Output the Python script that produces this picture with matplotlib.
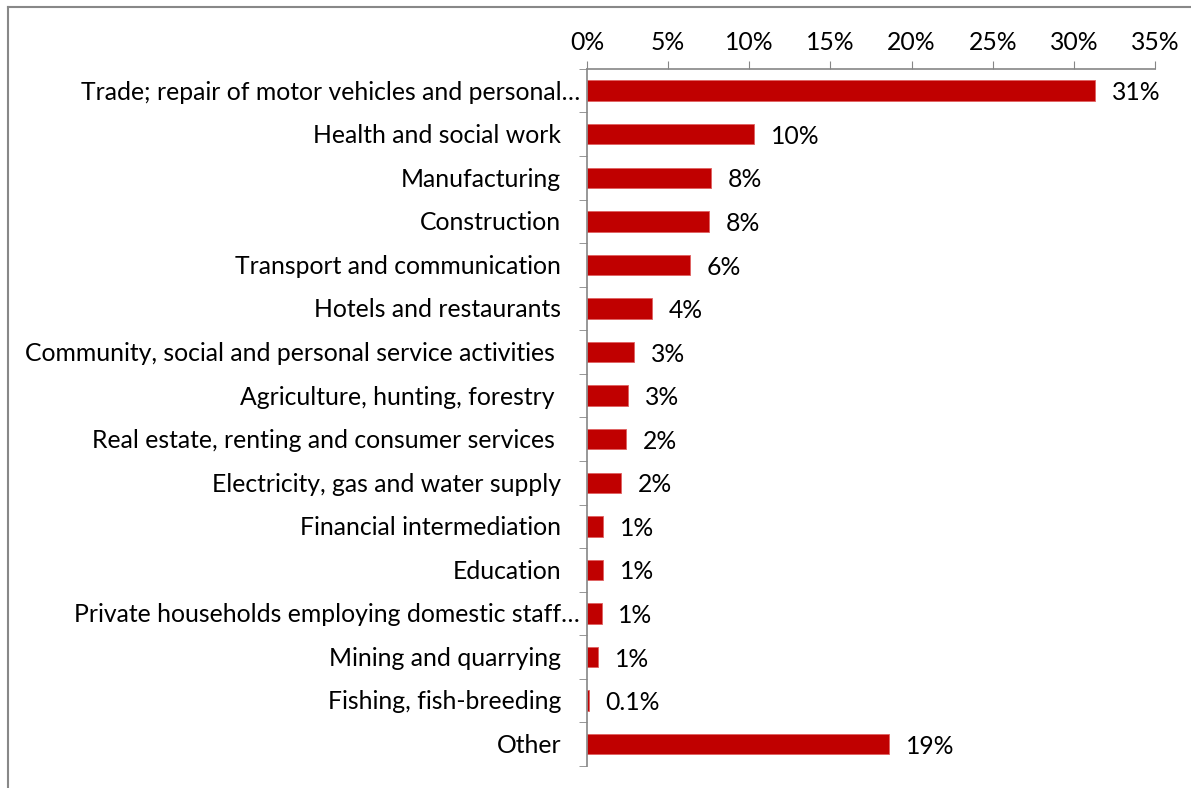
import numpy as np
from matplotlib import pyplot as plt
import matplotlib.ticker as mticker
from matplotlib.lines import Line2D

# sectors, top to bottom
sectors = [
    "Trade; repair of motor vehicles and personal\u2026",
    "Health and social work",
    "Manufacturing",
    "Construction",
    "Transport and communication",
    "Hotels and restaurants",
    "Community, social and personal service activities ",
    "Agriculture, hunting, forestry ",
    "Real estate, renting and consumer services ",
    "Electricity, gas and water supply",
    "Financial intermediation",
    "Education",
    "Private households employing domestic staff\u2026",
    "Mining and quarrying",
    "Fishing, fish-breeding",
    "Other",
]
# share of total, percent
shares = [31.3, 10.3, 7.65, 7.5, 6.35, 4.0, 2.9, 2.55, 2.4, 2.1,
          1.0, 1.0, 0.9, 0.7, 0.1, 18.6]
xticks = [0, 5, 10, 15, 20, 25, 30, 35]

fnt = "Lato"
fsize = 17.8
grey = "#868686"

fig = plt.figure(figsize=(11.91, 7.88), dpi=100)
ax = fig.add_axes([0.4929, 0.028, 0.4769, 0.8846])

y = np.arange(len(sectors))
ax.barh(y, shares, height=0.47, color="#C00000", edgecolor="#E06060", linewidth=0.6)

ax.set_xlim(0, 35)
ax.set_ylim(len(sectors) - 0.5, -0.5)

ax.xaxis.tick_top()
ax.set_xticks(xticks)
ax.xaxis.set_major_formatter(mticker.FuncFormatter(lambda v, p: f"{v:.0f}%"))
ax.tick_params(axis="x", direction="out", length=6, color=grey, pad=5,
               labelsize=fsize)
for lab in ax.get_xticklabels():
    lab.set_family(fnt)

# category ticks sit between the bars, names drawn by hand below
ax.set_yticks([])
ax.set_yticks(np.arange(len(sectors) + 1) - 0.5, minor=True)
ax.tick_params(axis="y", which="minor", direction="out", length=6, color=grey)

for s in ["right", "bottom"]:
    ax.spines[s].set_visible(False)
for s in ["left", "top"]:
    ax.spines[s].set_color(grey)
    ax.spines[s].set_linewidth(1.2)

for yi, name in zip(y, sectors):
    # truncated names run closer to the axis
    dx = -5 if name.endswith("\u2026") else -18.7
    ax.annotate(name, (0, yi), xytext=(dx, -1), textcoords="offset points",
                va="center", ha="right", fontsize=fsize, family=fnt,
                annotation_clip=False)

for yi, v in zip(y, shares):
    txt = f"{v:.1f}%" if v < 0.5 else f"{v:.0f}%"
    ax.annotate(txt, (v, yi), xytext=(12, -1.5), textcoords="offset points",
                va="center", ha="left", fontsize=fsize, family=fnt)

# chart frame: only top and left edges fall inside the image
fig.lines.append(Line2D([0.0067, 1.0], [0.991, 0.991], transform=fig.transFigure,
                        color="#888888", linewidth=1.5))
fig.lines.append(Line2D([0.0067, 0.0067], [0.0, 0.991], transform=fig.transFigure,
                        color="#888888", linewidth=1.5))

fig.savefig("out.png", dpi=100)
